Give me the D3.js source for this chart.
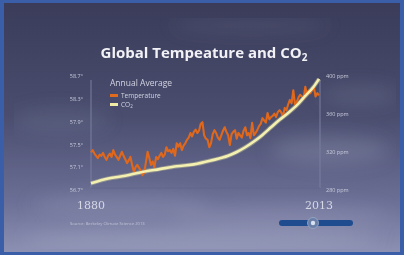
<!DOCTYPE html>
<html>
<head>
<meta charset="utf-8">
<script src="https://cdn.jsdelivr.net/npm/d3@7"></script>
<style>
  html, body { margin: 0; padding: 0; background: #3a5ea8; }
  svg { display: block; filter: blur(0.6px); }
</style>
</head>
<body>
<div id="chart"></div>
<script>
// years and values
const startYear = 1880, endYear = 2013;
const temperature = [
  57.36, 57.40, 57.34, 57.30, 57.26, 57.32, 57.30, 57.35, 57.28, 57.23,
  57.30, 57.34, 57.28, 57.40, 57.32, 57.28, 57.23, 57.30, 57.37, 57.30,
  57.24, 57.17, 57.22, 57.28, 57.14, 57.02, 57.10, 57.14, 57.09, 57.04,
  56.96, 57.00, 57.18, 57.37, 57.26, 57.14, 57.20, 57.10, 57.28, 57.24,
  57.30, 57.35, 57.28, 57.32, 57.45, 57.38, 57.40, 57.35, 57.42, 57.30,
  57.52, 57.46, 57.52, 57.40, 57.48, 57.52, 57.58, 57.62, 57.70, 57.64,
  57.72, 57.76, 57.70, 57.74, 57.86, 57.89, 57.66, 57.60, 57.58, 57.45,
  57.52, 57.68, 57.75, 57.70, 57.62, 57.58, 57.66, 57.74, 57.80, 57.72,
  57.66, 57.49, 57.68, 57.72, 57.75, 57.60, 57.70, 57.66, 57.62, 57.74,
  57.80, 57.66, 57.70, 57.61, 57.88, 57.66, 57.70, 57.75, 57.82, 57.86,
  57.96, 57.92, 57.88, 58.05, 57.94, 57.98, 58.00, 58.04, 57.98, 58.07,
  58.10, 58.06, 57.98, 58.14, 58.10, 58.20, 58.28, 58.22, 58.45, 58.20,
  58.24, 58.32, 58.37, 58.34, 58.30, 58.51, 58.36, 58.44, 58.40, 58.46,
  58.50, 58.34, 58.40, 58.36
];
const co2Years = [1880, 1890, 1900, 1910, 1920, 1930, 1940, 1950, 1960, 1965, 1970, 1975, 1980, 1985, 1990, 1995, 2000, 2005, 2010, 2013];
const co2Values = [287, 292, 295, 299, 302, 305, 307, 311, 316, 320, 325, 331, 338, 346, 354, 361, 369, 379, 389, 397];
const tempTicks = [56.7, 57.1, 57.5, 57.9, 58.3, 58.7];
const co2Ticks = [280, 320, 360, 400];

const W = 404, H = 255;
const svg = d3.select("#chart").append("svg")
    .attr("width", W).attr("height", H);

const defs = svg.append("defs");
const bg = defs.append("linearGradient").attr("id", "bg")
    .attr("x1", 0).attr("y1", 0).attr("x2", 0).attr("y2", 1);
bg.append("stop").attr("offset", 0).attr("stop-color", "#3a3c5a");
bg.append("stop").attr("offset", 0.45).attr("stop-color", "#4a4d6e");
bg.append("stop").attr("offset", 0.8).attr("stop-color", "#6c7096");
bg.append("stop").attr("offset", 1).attr("stop-color", "#8c90b2");

const cloud = defs.append("filter").attr("id", "cloud")
    .attr("x", "-50%").attr("y", "-50%").attr("width", "200%").attr("height", "200%");
cloud.append("feGaussianBlur").attr("stdDeviation", 9);

// border + sky
svg.append("rect").attr("width", W).attr("height", H).attr("fill", "#3a5ea8");
svg.append("rect").attr("x", 4).attr("y", 3).attr("width", W - 8).attr("height", H - 6)
    .attr("fill", "url(#bg)");

const clouds = svg.append("g").attr("filter", "url(#cloud)")
    .attr("clip-path", "inset(3px 4px 3px 4px)");
[[330, 150, 60, 14, 0.18], [360, 95, 40, 10, 0.12], [120, 205, 90, 10, 0.18],
 [280, 215, 110, 12, 0.15], [60, 120, 50, 12, 0.10], [250, 25, 80, 10, 0.08],
 [200, 240, 180, 12, 0.2]].forEach(c => {
    clouds.append("ellipse").attr("cx", c[0]).attr("cy", c[1])
        .attr("rx", c[2]).attr("ry", c[3])
        .attr("fill", "#c8cce0").attr("opacity", c[4]);
});

const x = d3.scaleLinear().domain([startYear, endYear]).range([91, 319]);
const yT = d3.scaleLinear().domain([56.7, 58.7]).range([190, 76]);
const yC = d3.scaleLinear().domain([280, 400]).range([190, 76]);

const tempData = temperature.map((v, i) => ({ year: startYear + i, v }));
const co2Data = co2Years.map((yr, i) => ({ year: yr, v: co2Values[i] }));

// axes
const left = svg.append("g").attr("transform", "translate(91,0)")
    .call(d3.axisLeft(yT).tickValues(tempTicks).tickSize(0).tickPadding(8)
        .tickFormat(d => d.toFixed(1) + "°"));
const right = svg.append("g").attr("transform", "translate(320,0)")
    .call(d3.axisRight(yC).tickValues(co2Ticks).tickSize(0).tickPadding(6)
        .tickFormat(d => d + " ppm"));
[left, right].forEach(g => {
    g.select(".domain").attr("stroke", "#7a7ea0").attr("stroke-width", 1)
        .attr("d", "M0,80V188");
    g.selectAll("text").attr("fill", "#c9cbdb").style("font-family", "Open Sans")
        .style("font-size", "5.5px");
});
svg.append("line").attr("x1", 91).attr("x2", 320).attr("y1", 188).attr("y2", 188)
    .attr("stroke", "#60648a").attr("stroke-width", 0.8);

// year labels
svg.selectAll(".yr").data([startYear, endYear]).enter().append("text")
    .attr("x", d => x(d)).attr("y", 209)
    .attr("text-anchor", "middle").attr("fill", "#d6d8e6")
    .style("font-family", "DejaVu Serif").style("font-size", "11px")
    .text(d => d);

// series
svg.append("path").datum(co2Data)
    .attr("fill", "none").attr("stroke", "#e8e6a0").attr("stroke-width", 4.5).attr("opacity", 0.35)
    .attr("d", d3.line().x(d => x(d.year)).y(d => yC(d.v)).curve(d3.curveMonotoneX));
svg.append("path").datum(tempData)
    .attr("fill", "none").attr("stroke", "#e0681c").attr("stroke-width", 2.1)
    .attr("stroke-linejoin", "round")
    .attr("d", d3.line().x(d => x(d.year)).y(d => yT(d.v)));
svg.append("path").datum(co2Data)
    .attr("fill", "none").attr("stroke", "#f4f0b0").attr("stroke-width", 2.6)
    .attr("d", d3.line().x(d => x(d.year)).y(d => yC(d.v)).curve(d3.curveMonotoneX));

// title
const title = svg.append("text").attr("x", 204).attr("y", 58)
    .attr("text-anchor", "middle").attr("fill", "#f2f2f6")
    .style("font-family", "Open Sans").style("font-weight", 700).style("font-size", "15px");
title.append("tspan").text("Global Tempeature and CO");
title.append("tspan").attr("dy", 3).style("font-size", "10px").text("2");

// legend
const legend = svg.append("g").attr("transform", "translate(110,0)")
    .style("font-family", "Open Sans").attr("fill", "#d2d4e2");
legend.append("text").attr("x", 0).attr("y", 86).style("font-size", "8.5px").text("Annual Average");
legend.append("rect").attr("x", 0).attr("y", 94).attr("width", 8).attr("height", 3).attr("fill", "#e06a1e");
legend.append("text").attr("x", 11).attr("y", 97.5).style("font-size", "6.5px").text("Temperature");
legend.append("rect").attr("x", 0).attr("y", 103).attr("width", 8).attr("height", 3).attr("fill", "#f0eca8");
const lc = legend.append("text").attr("x", 11).attr("y", 106.5).style("font-size", "6.5px");
lc.append("tspan").text("CO");
lc.append("tspan").attr("dy", 1.5).style("font-size", "4.5px").text("2");

// source note
svg.append("text").attr("x", 70).attr("y", 225)
    .attr("fill", "#c0c2d6").style("font-family", "Open Sans").style("font-size", "4.2px")
    .text("Source: Berkeley Climate Science 2013");

// slider
svg.append("rect").attr("x", 279).attr("y", 220).attr("width", 74).attr("height", 6).attr("rx", 3)
    .attr("fill", "#1f4c8e");
svg.append("circle").attr("cx", 313).attr("cy", 223).attr("r", 5.5)
    .attr("fill", "#6a7fa8").attr("stroke", "#9aaac8").attr("stroke-width", 0.8);
svg.append("circle").attr("cx", 313).attr("cy", 223).attr("r", 2.2).attr("fill", "#d8e2f2");
</script>
</body>
</html>
